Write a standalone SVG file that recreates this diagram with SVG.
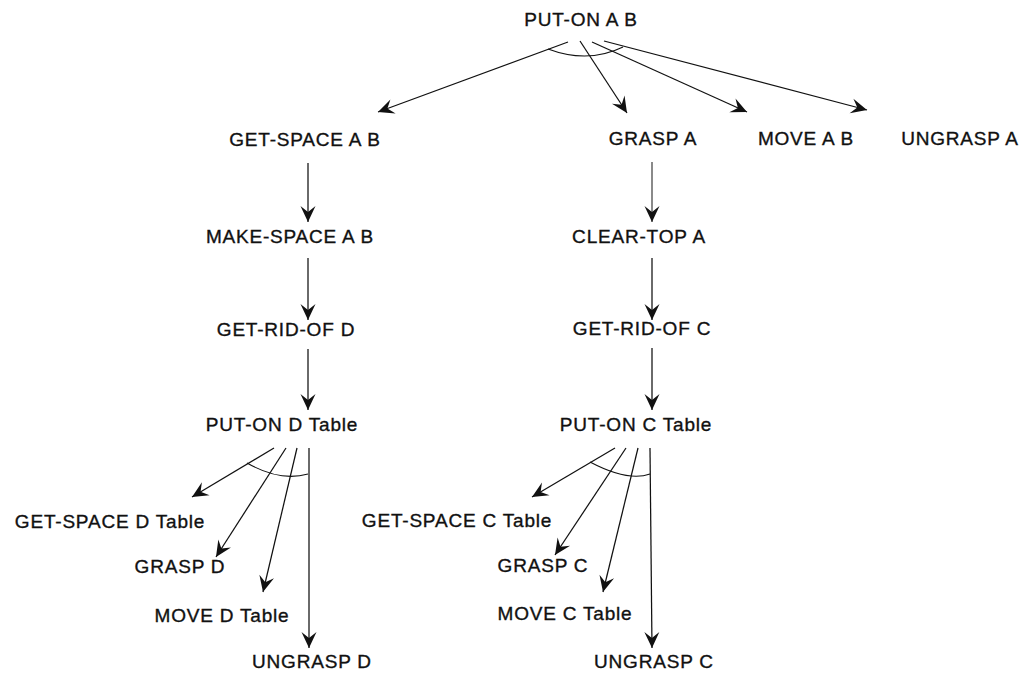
<svg xmlns="http://www.w3.org/2000/svg" width="1026" height="673" viewBox="0 0 1026 673">
  <style>
    .lbl { font-family: "Liberation Sans", Arial, Helvetica, sans-serif; font-size: 19px; letter-spacing: 0.8px; fill: #111; stroke: #111; stroke-width: 0.35; text-anchor: middle; }
    .edge { stroke: #111; stroke-width: 1.25; fill: none; marker-end: url(#head); }
    .arc { stroke: #111; stroke-width: 1.1; fill: none; }
  </style>
  <defs>
    <marker id="head" viewBox="-17 -9 18 18" refX="0" refY="0" markerWidth="18" markerHeight="18" markerUnits="userSpaceOnUse" orient="auto">
      <path d="M-16,-7.5 L0,0 L-16,7.5 L-10,0 Z" fill="#111"/>
    </marker>
  </defs>
  <rect width="1026" height="673" fill="#fff"/>

  <g id="connectors">
    <!-- PUT-ON A B decomposition -->
    <line class="edge" x1="568" y1="42" x2="378" y2="112"/>
    <line class="edge" x1="580" y1="41" x2="627" y2="113"/>
    <line class="edge" x1="592" y1="42" x2="747" y2="112"/>
    <line class="edge" x1="604" y1="41" x2="867" y2="110"/>
    <path class="arc" d="M548,49 Q588,64 623,47"/>

    <!-- left chain -->
    <line class="edge" x1="308" y1="163" x2="308" y2="222"/>
    <line class="edge" x1="308" y1="258" x2="308" y2="320"/>
    <line class="edge" x1="308" y1="349" x2="308" y2="410"/>

    <!-- right chain -->
    <line class="edge" x1="652" y1="162" x2="652" y2="222" style="stroke:#444"/>
    <line class="edge" x1="652" y1="258" x2="652" y2="320"/>
    <line class="edge" x1="652" y1="348" x2="652" y2="410"/>

    <!-- PUT-ON D Table decomposition -->
    <line class="edge" x1="274" y1="448" x2="192" y2="497"/>
    <line class="edge" x1="286" y1="448" x2="216" y2="557"/>
    <line class="edge" x1="297" y1="448" x2="263" y2="592"/>
    <line class="edge" x1="309" y1="448" x2="309" y2="648"/>
    <path class="arc" d="M247,463 Q280,482 308,474"/>

    <!-- PUT-ON C Table decomposition -->
    <line class="edge" x1="615" y1="448" x2="532" y2="497"/>
    <line class="edge" x1="626" y1="448" x2="555" y2="555"/>
    <line class="edge" x1="638" y1="448" x2="603" y2="592"/>
    <line class="edge" x1="650" y1="448" x2="652" y2="648"/>
    <path class="arc" d="M590,462 Q628,482 650,474"/>
  </g>

  <g id="put-on-a-b"><text class="lbl" x="581" y="26">PUT-ON A B</text></g>
  <g id="get-space-a-b"><text class="lbl" x="305" y="146">GET-SPACE A B</text></g>
  <g id="grasp-a"><text class="lbl" x="653" y="145">GRASP A</text></g>
  <g id="move-a-b"><text class="lbl" x="806" y="145">MOVE A B</text></g>
  <g id="ungrasp-a"><text class="lbl" x="960" y="145">UNGRASP A</text></g>
  <g id="make-space-a-b"><text class="lbl" x="290" y="243">MAKE-SPACE A B</text></g>
  <g id="clear-top-a"><text class="lbl" x="639" y="243">CLEAR-TOP A</text></g>
  <g id="get-rid-of-d"><text class="lbl" x="286" y="336">GET-RID-OF D</text></g>
  <g id="get-rid-of-c"><text class="lbl" x="642" y="335">GET-RID-OF C</text></g>
  <g id="put-on-d-table"><text class="lbl" x="282" y="431">PUT-ON D Table</text></g>
  <g id="put-on-c-table"><text class="lbl" x="636" y="431">PUT-ON C Table</text></g>
  <g id="get-space-d-table"><text class="lbl" x="110" y="528">GET-SPACE D Table</text></g>
  <g id="get-space-c-table"><text class="lbl" x="457" y="527">GET-SPACE C Table</text></g>
  <g id="grasp-d"><text class="lbl" x="180" y="573">GRASP D</text></g>
  <g id="grasp-c"><text class="lbl" x="543" y="572">GRASP C</text></g>
  <g id="move-d-table"><text class="lbl" x="222" y="622">MOVE D Table</text></g>
  <g id="move-c-table"><text class="lbl" x="565" y="620">MOVE C Table</text></g>
  <g id="ungrasp-d"><text class="lbl" x="312" y="668">UNGRASP D</text></g>
  <g id="ungrasp-c"><text class="lbl" x="654" y="668">UNGRASP C</text></g>
</svg>
